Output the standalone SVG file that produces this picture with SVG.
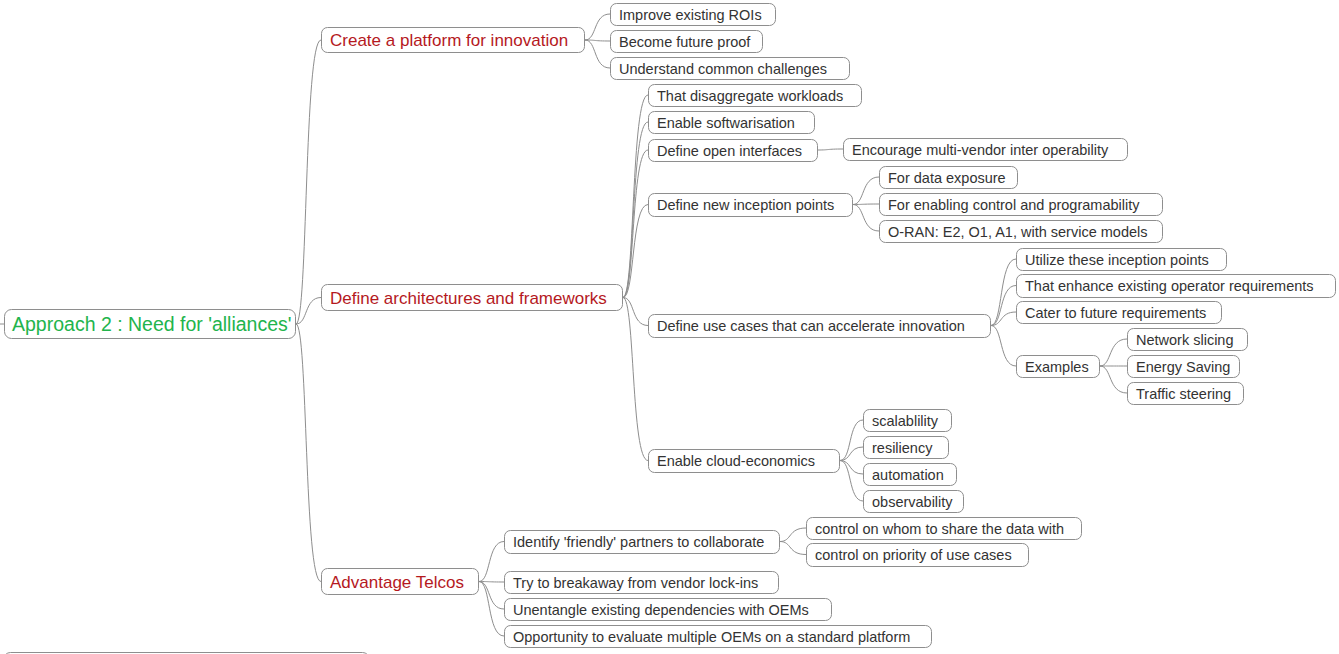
<svg xmlns="http://www.w3.org/2000/svg" width="1339" height="654" viewBox="0 0 1339 654">
<style>
rect{fill:#fff;stroke:#8e8e8e;stroke-width:1}
text{font-family:"Liberation Sans",Arial,sans-serif}
.r{font-size:19.5px;fill:#22b44c}
.a{font-size:17px;fill:#b5191e}
.b{font-size:14.5px;fill:#333}
#edges path{fill:none;stroke:#8e8e8e;stroke-width:1}
</style>
<rect x="0" y="0" width="1339" height="654" style="fill:#fff;stroke:none"/>
<g id="edges">
<path d="M0,324 H4"/>
<path d="M296,324 C308,324 304,40 321,40"/>
<path d="M296,324 C308,324 304,297.5 321,297.5"/>
<path d="M296,324 C308,324 304,581.5 321,581.5"/>
<path d="M585,40 C597,40 593,14 610,14"/>
<path d="M585,40 C597,40 593,41 610,41"/>
<path d="M585,40 C597,40 593,68 610,68"/>
<path d="M623,297.5 C635,297.5 631,95 648,95"/>
<path d="M623,297.5 C635,297.5 631,122 648,122"/>
<path d="M623,297.5 C635,297.5 631,150 648,150"/>
<path d="M623,297.5 C635,297.5 631,204.5 648,204.5"/>
<path d="M623,297.5 C635,297.5 631,325.5 648,325.5"/>
<path d="M623,297.5 C635,297.5 631,460.5 648,460.5"/>
<path d="M818,150 C830,150 826,149 843,149"/>
<path d="M853,204.5 C865,204.5 861,177 879,177"/>
<path d="M853,204.5 C865,204.5 861,204 879,204"/>
<path d="M853,204.5 C865,204.5 861,231 879,231"/>
<path d="M991,325.5 C1003,325.5 999,259 1016,259"/>
<path d="M991,325.5 C1003,325.5 999,285.5 1016,285.5"/>
<path d="M991,325.5 C1003,325.5 999,312 1016,312"/>
<path d="M991,325.5 C1003,325.5 999,366 1016,366"/>
<path d="M1100,366 C1112,366 1108,339 1127,339"/>
<path d="M1100,366 C1112,366 1108,366 1127,366"/>
<path d="M1100,366 C1112,366 1108,393 1127,393"/>
<path d="M840,460.5 C852,460.5 848,420 863,420"/>
<path d="M840,460.5 C852,460.5 848,447 863,447"/>
<path d="M840,460.5 C852,460.5 848,474 863,474"/>
<path d="M840,460.5 C852,460.5 848,501 863,501"/>
<path d="M479,581.5 C491,581.5 487,541.5 504,541.5"/>
<path d="M479,581.5 C491,581.5 487,582 504,582"/>
<path d="M479,581.5 C491,581.5 487,609 504,609"/>
<path d="M479,581.5 C491,581.5 487,636 504,636"/>
<path d="M780,541.5 C792,541.5 788,528 806,528"/>
<path d="M780,541.5 C792,541.5 788,554.5 806,554.5"/>
</g>
<g id="root"><rect x="4.5" y="309.5" width="291" height="29" rx="7"/><text class="r" x="12" y="331">Approach 2 : Need for 'alliances'</text></g>
<g id="create"><rect x="321.5" y="27.5" width="263" height="25" rx="6"/><text class="a" x="330" y="46">Create a platform for innovation</text></g>
<g id="arch"><rect x="321.5" y="284.5" width="301" height="26" rx="6"/><text class="a" x="330" y="303.5">Define architectures and frameworks</text></g>
<g id="adv"><rect x="321.5" y="568.5" width="157" height="26" rx="6"/><text class="a" x="330" y="587.5">Advantage Telcos</text></g>
<g id="improve"><rect x="610.5" y="3.5" width="165" height="22" rx="6"/><text class="b" x="619" y="19.5">Improve existing ROIs</text></g>
<g id="become"><rect x="610.5" y="30.5" width="152" height="22" rx="6"/><text class="b" x="619" y="46.5">Become future proof</text></g>
<g id="understand"><rect x="610.5" y="57.5" width="239" height="22" rx="6"/><text class="b" x="619" y="73.5">Understand common challenges</text></g>
<g id="disagg"><rect x="648.5" y="84.5" width="213" height="22" rx="6"/><text class="b" x="657" y="100.5">That disaggregate workloads</text></g>
<g id="softw"><rect x="648.5" y="111.5" width="166" height="22" rx="6"/><text class="b" x="657" y="127.5">Enable softwarisation</text></g>
<g id="openif"><rect x="648.5" y="139.5" width="169" height="22" rx="6"/><text class="b" x="657" y="155.5">Define open interfaces</text></g>
<g id="encourage"><rect x="843.5" y="138.5" width="284" height="22" rx="6"/><text class="b" x="852" y="154.5">Encourage multi-vendor inter operability</text></g>
<g id="newincep"><rect x="648.5" y="193.5" width="204" height="23" rx="6"/><text class="b" x="657" y="210">Define new inception points</text></g>
<g id="fordata"><rect x="879.5" y="166.5" width="138" height="22" rx="6"/><text class="b" x="888" y="182.5">For data exposure</text></g>
<g id="forenab"><rect x="879.5" y="193.5" width="283" height="22" rx="6"/><text class="b" x="888" y="209.5">For enabling control and programability</text></g>
<g id="oran"><rect x="879.5" y="220.5" width="283" height="22" rx="6"/><text class="b" x="888" y="236.5">O-RAN: E2, O1, A1, with service models</text></g>
<g id="usecases"><rect x="648.5" y="314.5" width="342" height="23" rx="6"/><text class="b" x="657" y="331">Define use cases that can accelerate innovation</text></g>
<g id="utilize"><rect x="1016.5" y="248.5" width="210" height="22" rx="6"/><text class="b" x="1025" y="264.5">Utilize these inception points</text></g>
<g id="enhance"><rect x="1016.5" y="274.5" width="319" height="23" rx="6"/><text class="b" x="1025" y="291">That enhance existing operator requirements</text></g>
<g id="cater"><rect x="1016.5" y="301.5" width="205" height="22" rx="6"/><text class="b" x="1025" y="317.5">Cater to future requirements</text></g>
<g id="examples"><rect x="1016.5" y="355.5" width="83" height="22" rx="6"/><text class="b" x="1025" y="371.5">Examples</text></g>
<g id="netslice"><rect x="1127.5" y="328.5" width="120" height="22" rx="6"/><text class="b" x="1136" y="344.5">Network slicing</text></g>
<g id="energy"><rect x="1127.5" y="355.5" width="112" height="22" rx="6"/><text class="b" x="1136" y="371.5">Energy Saving</text></g>
<g id="traffic"><rect x="1127.5" y="382.5" width="116" height="22" rx="6"/><text class="b" x="1136" y="398.5">Traffic steering</text></g>
<g id="cloud"><rect x="648.5" y="449.5" width="191" height="23" rx="6"/><text class="b" x="657" y="466">Enable cloud-economics</text></g>
<g id="scal"><rect x="863.5" y="409.5" width="88" height="22" rx="6"/><text class="b" x="872" y="425.5">scalablility</text></g>
<g id="resil"><rect x="863.5" y="436.5" width="85" height="22" rx="6"/><text class="b" x="872" y="452.5">resiliency</text></g>
<g id="autom"><rect x="863.5" y="463.5" width="93" height="22" rx="6"/><text class="b" x="872" y="479.5">automation</text></g>
<g id="observ"><rect x="863.5" y="490.5" width="100" height="22" rx="6"/><text class="b" x="872" y="506.5">observability</text></g>
<g id="identify"><rect x="504.5" y="530.5" width="275" height="23" rx="6"/><text class="b" x="513" y="547">Identify 'friendly' partners to collaborate</text></g>
<g id="ctrlwhom"><rect x="806.5" y="517.5" width="275" height="22" rx="6"/><text class="b" x="815" y="533.5">control on whom to share the data with</text></g>
<g id="ctrlprio"><rect x="806.5" y="543.5" width="222" height="23" rx="6"/><text class="b" x="815" y="560">control on priority of use cases</text></g>
<g id="try"><rect x="504.5" y="571.5" width="274" height="22" rx="6"/><text class="b" x="513" y="587.5">Try to breakaway from vendor lock-ins</text></g>
<g id="unent"><rect x="504.5" y="598.5" width="327" height="22" rx="6"/><text class="b" x="513" y="614.5">Unentangle existing dependencies with OEMs</text></g>
<g id="opport"><rect x="504.5" y="625.5" width="427" height="22" rx="6"/><text class="b" x="513" y="641.5">Opportunity to evaluate multiple OEMs on a standard platform</text></g>
<g id="partial"><rect x="3.5" y="652.5" width="366" height="30" rx="7"/></g>
</svg>
